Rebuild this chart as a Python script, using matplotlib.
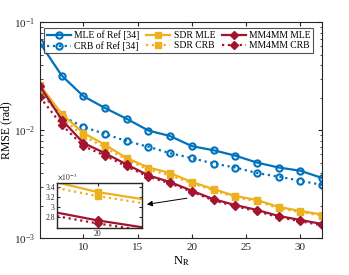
import numpy as np
import matplotlib
matplotlib.use("Agg")
import matplotlib.pyplot as plt
from matplotlib.ticker import LogLocator, NullFormatter, FixedLocator

plt.rcParams['font.family'] = ['Liberation Serif', 'DejaVu Serif']
plt.rcParams['mathtext.fontset'] = 'stix'

# data
n_r = [6, 8, 10, 12, 14, 16, 18, 20, 22, 24, 26, 28, 30, 32]
mle_ref = [0.064, 0.032, 0.0206, 0.016, 0.0127, 0.0099, 0.0088, 0.0071, 0.0065, 0.0058, 0.0050, 0.0045, 0.0042, 0.0036]
crb_ref = [0.0225, 0.0135, 0.0107, 0.0092, 0.0079, 0.0070, 0.0061, 0.0055, 0.0049, 0.0045, 0.0040, 0.0037, 0.0034, 0.0031]
sdr_mle = [0.0261, 0.0141, 0.0094, 0.0073, 0.0055, 0.0045, 0.0040, 0.0033, 0.00284, 0.00245, 0.00225, 0.00194, 0.00178, 0.00165]
sdr_crb = [0.0235, 0.0130, 0.0088, 0.0069, 0.0053, 0.0043, 0.0038, 0.00322, 0.00277, 0.00239, 0.00219, 0.00189, 0.00174, 0.00161]
mm_mle = [0.0255, 0.0125, 0.0076, 0.0061, 0.0048, 0.0038, 0.0033, 0.00274, 0.00229, 0.00202, 0.00182, 0.0016, 0.00147, 0.00135]
mm_crb = [0.0202, 0.0112, 0.0071, 0.0058, 0.0046, 0.0037, 0.0032, 0.00268, 0.00223, 0.00197, 0.00177, 0.00156, 0.00143, 0.00131]

blue = '#0072BD'
yellow = '#EDB120'
red = '#A2142F'

series = [
    (mle_ref, 'MLE of Ref [34]', blue, '-', 'o'),
    (crb_ref, 'CRB of Ref [34]', blue, ':', 'o'),
    (sdr_mle, 'SDR MLE', yellow, '-', 's'),
    (sdr_crb, 'SDR CRB', yellow, ':', 's'),
    (mm_mle, 'MM4MM MLE', red, '-', 'D'),
    (mm_crb, 'MM4MM CRB', red, ':', 'D'),
]


def draw(ax, ms=4.5):
    for vals, lab, c, ls, mk in series:
        if mk == 'o':
            ax.plot(n_r, vals, ls=ls, color=c, lw=1.6, marker=mk, ms=ms,
                    mfc='none', mew=1.5, label=lab)
        else:
            ax.plot(n_r, vals, ls=ls, color=c, lw=1.6, marker=mk,
                    ms=ms if mk == 's' else ms - 0.5, mfc=c, mec=c, label=lab)


fig = plt.figure(figsize=(3.49, 2.75), dpi=100)
ax = fig.add_axes([0.1146, 0.1345, 0.808, 0.785])
draw(ax)
ax.set_yscale('log')
ax.set_xlim(6, 32)
ax.set_ylim(1e-3, 1e-1)
ax.set_xticks([10, 15, 20, 25, 30])
ax.yaxis.set_major_locator(LogLocator(base=10, numticks=5))
ax.yaxis.set_minor_locator(LogLocator(base=10, subs=np.arange(2, 10), numticks=20))
ax.yaxis.set_minor_formatter(NullFormatter())
ax.tick_params(which='both', direction='in', top=True, right=True, labelsize=8, colors='#262626')
ax.tick_params(which='major', length=3)
ax.tick_params(which='minor', length=1.8)
for s in ax.spines.values():
    s.set_color('#262626')
    s.set_linewidth(0.8)
ax.set_xlabel(r'N$_\mathrm{R}$', fontsize=9, labelpad=2)
ax.set_ylabel('RMSE (rad)', fontsize=8.5, labelpad=1)

leg = ax.legend(ncol=3, loc='upper right', bbox_to_anchor=(0.968, 0.972), fontsize=6.9,
                frameon=True, fancybox=False, edgecolor='#262626', handlelength=2.5,
                handletextpad=0.35, columnspacing=0.7, borderpad=0.25, labelspacing=0.1,
                borderaxespad=0.0)
leg.get_frame().set_linewidth(0.8)

ax.annotate('', xy=(15.6, 0.00203), xytext=(19.8, 0.00236),
            arrowprops=dict(arrowstyle='-|>', color='black', lw=0.7,
                            mutation_scale=8))

# zoomed inset
ins = fig.add_axes([0.163, 0.171, 0.2436, 0.1636])
draw(ins, ms=5)
ins.set_xlim(19.45, 20.6)
ins.set_ylim(0.00259, 0.00348)
ins.xaxis.set_major_locator(FixedLocator([20]))
ins.yaxis.set_major_locator(FixedLocator([0.0028, 0.0030, 0.0032, 0.0034]))
ins.set_yticklabels(['2.8', '3', '3.2', '3.4'])
ins.tick_params(direction='in', labelsize=5.5, length=2, top=True, right=True, pad=1.5,
                colors='#262626')
ins.text(0.0, 1.02, r'$\times 10^{-3}$', transform=ins.transAxes, fontsize=5.5,
         ha='left', va='bottom', color='#262626')
for s in ins.spines.values():
    s.set_color('#262626')
    s.set_linewidth(1.0)

fig.savefig('out.png', dpi=100)
